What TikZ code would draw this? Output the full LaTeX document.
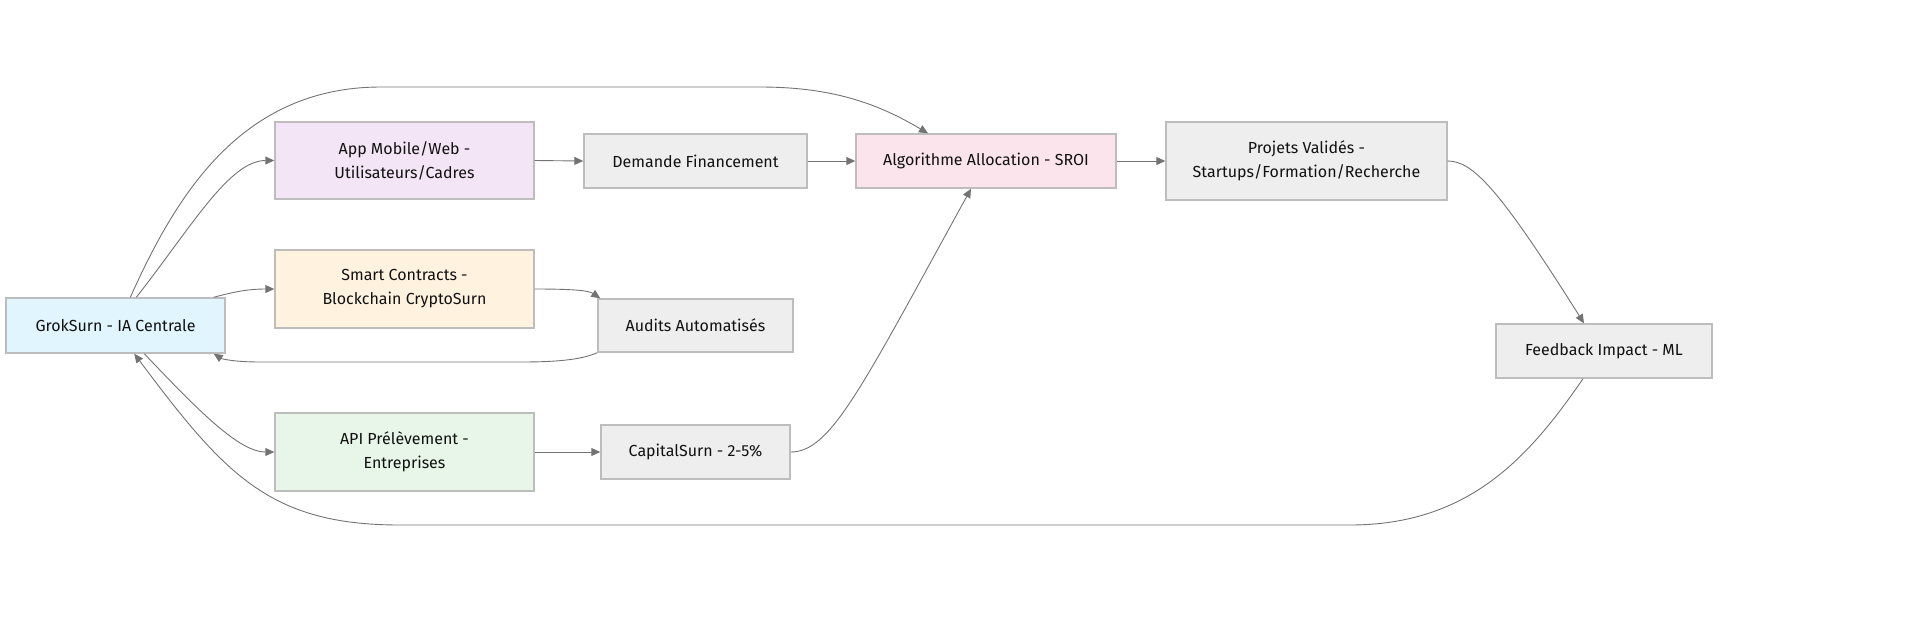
\documentclass[tikz,border=0pt]{standalone}
\usepackage{fontspec}
\setmainfont{Fira Sans}
\usetikzlibrary{arrows.meta,calc}
\definecolor{edge}{HTML}{737373}
\definecolor{bord}{HTML}{BDBDBD}
\definecolor{txt}{HTML}{111111}
\definecolor{cgrok}{HTML}{E1F5FE}
\definecolor{capp}{HTML}{F3E5F5}
\definecolor{csmart}{HTML}{FFF3E0}
\definecolor{capi}{HTML}{E8F5E9}
\definecolor{calgo}{HTML}{FCE4EC}
\definecolor{cgray}{HTML}{EEEEEE}
\tikzset{
  box/.style={draw=bord, line width=1.4pt, fill=cgray, text=txt, inner sep=0pt,
    align=center, font=\fontsize{16}{24}\selectfont},
  conn/.style={draw=edge, line width=0.9pt, -{Triangle[length=9pt,width=8pt]}},
}
\begin{document}
\begin{tikzpicture}[x=1pt,y=-1pt]
\useasboundingbox (0,0) rectangle (1917,625);
\node[box, fill=cgrok, minimum width=219pt, minimum height=55pt] (grok) at (115.5,325.5) {GrokSurn - IA Centrale};
\node[box, fill=capp, minimum width=259pt, minimum height=77pt] (app) at (404.5,160.5) {App Mobile/Web -\\Utilisateurs/Cadres};
\node[box, fill=csmart, minimum width=259pt, minimum height=78pt] (smart) at (404.5,289) {Smart Contracts -\\Blockchain CryptoSurn};
\node[box, fill=capi, minimum width=259pt, minimum height=78pt] (api) at (404.5,452) {API Prélèvement -\\Entreprises};
\node[box, minimum width=223pt, minimum height=54pt] (dem) at (695.5,161) {Demande Financement};
\node[box, minimum width=195pt, minimum height=53pt] (aud) at (695.5,325.5) {Audits Automatisés};
\node[box, minimum width=189pt, minimum height=54pt] (cap) at (695.5,452) {CapitalSurn - 2-5\%};
\node[box, fill=calgo, minimum width=260pt, minimum height=54pt] (algo) at (986,161) {Algorithme Allocation - SROI};
\node[box, minimum width=281pt, minimum height=78pt] (proj) at (1306.5,161) {Projets Validés -\\Startups/Formation/Recherche};
\node[box, minimum width=216pt, minimum height=54pt] (feed) at (1604,351) {Feedback Impact - ML};

% straight flows
\draw[conn] (app.east) -- (dem.west);
\draw[conn] (dem.east) -- (algo.west);
\draw[conn] (algo.east) -- (proj.west);
\draw[conn] (api.east) -- (cap.west);

% from GrokSurn
\draw[conn] ([xshift=125pt]grok.north west) .. controls +(45,-100) and (240,87) .. (381,87)
   -- (760,87) .. controls (835,87) and (880,105) .. ([xshift=-58pt]algo.north);
\draw[conn] ([xshift=131pt]grok.north west) .. controls +(55,-70) and +(-45,0) .. (app.west);
\draw[conn] ([xshift=-12pt]grok.north east) .. controls +(22,-6) and +(-25,0) .. (smart.west);
\draw[conn] ([xshift=139pt]grok.south west) .. controls +(55,58) and +(-35,0) .. (api.west);

% smart -> audits -> grok
\draw[conn] (smart.east) .. controls +(36,0) and +(-12,-8) .. ([xshift=3pt]aud.north west);
\draw[conn] (aud.south west) .. controls +(-18,8) and +(30,0) .. (520,362) -- (260,362)
   .. controls (235,362) and (222,359) .. ([xshift=-12pt]grok.south east);

% capital -> algo
\draw[conn] (cap.east) .. controls +(40,0) and +(-110,200) .. ([xshift=-15pt]algo.south);

% projets -> feedback
\draw[conn] (proj.east) .. controls +(25,0) and +(-85,-135) .. ([xshift=-20pt]feed.north);

% feedback -> grok
\draw[conn] ([xshift=-21pt]feed.south) .. controls +(-53,77) and +(120,0) .. (1350,525)
   -- (400,525) .. controls (270,525) and (225,475) .. ([xshift=129pt]grok.south west);
\end{tikzpicture}
\end{document}
